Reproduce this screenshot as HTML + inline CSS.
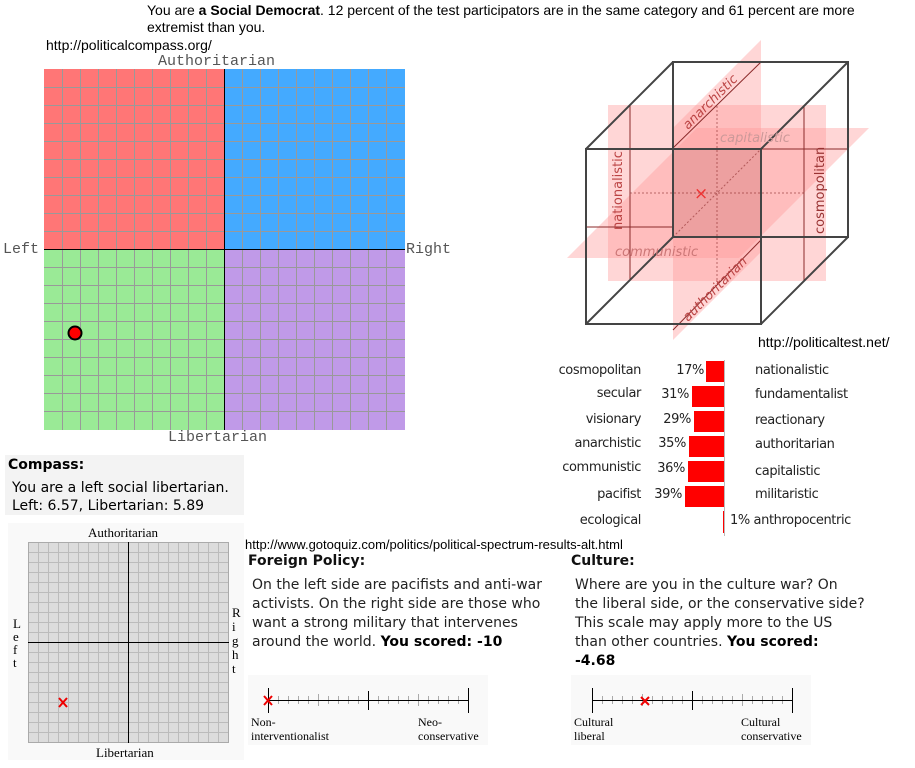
<!DOCTYPE html>
<html><head><meta charset="utf-8"><style>
body{margin:0;width:915px;height:768px;background:#fff;position:relative;overflow:hidden;font-family:"Liberation Sans",sans-serif;}
.a{position:absolute;white-space:nowrap;line-height:1;}
.v{font-family:"DejaVu Sans",sans-serif;font-size:14px;color:#000;}
.m{font-family:"Liberation Mono",monospace;font-size:15px;color:#555;}
.s{font-family:"Liberation Serif",serif;font-size:12px;}
.t{font-family:"DejaVu Sans",sans-serif;font-size:13px;color:#222;letter-spacing:-0.4px;}
svg{position:absolute;left:0;top:0;}
</style></head><body>
<div class="a" style="left:147px;top:3px;font-size:14px">You are <b>a Social Democrat</b>. 12 percent of the test participators are in the same category and 61 percent are more</div>
<div class="a" style="left:147px;top:20px;font-size:14px">extremist than you.</div>
<div class="a" style="left:46px;top:38px;font-size:14px">http://politicalcompass.org/</div>
<div class="a m" style="left:158px;top:54px">Authoritarian</div>
<div class="a m" style="left:3px;top:242px">Left</div>
<div class="a m" style="left:406px;top:242px">Right</div>
<div class="a m" style="left:168px;top:430px">Libertarian</div>

<svg width="915" height="768">
<rect x="44" y="69" width="180" height="180" fill="#ff7676"/>
<rect x="224" y="69" width="181" height="180" fill="#44aaff"/>
<rect x="44" y="249" width="180" height="181" fill="#9aea96"/>
<rect x="224" y="249" width="181" height="181" fill="#c09ae8"/>
<g stroke="#999" stroke-width="1">
<path d="M62.5 69V430M80.5 69V430M98.5 69V430M116.5 69V430M134.5 69V430M152.5 69V430M170.5 69V430M188.5 69V430M206.5 69V430M242.5 69V430M260.5 69V430M278.5 69V430M296.5 69V430M314.5 69V430M332.5 69V430M350.5 69V430M368.5 69V430M386.5 69V430"/>
<path d="M44 87.5H405M44 105.5H405M44 123.5H405M44 141.5H405M44 159.5H405M44 177.5H405M44 195.5H405M44 213.5H405M44 231.5H405M44 267.5H405M44 285.5H405M44 303.5H405M44 321.5H405M44 339.5H405M44 357.5H405M44 375.5H405M44 393.5H405M44 411.5H405"/>
</g>
<path d="M224.5 69V430M44 249.5H405" stroke="#000"/>
<circle cx="75" cy="333" r="6.5" fill="#f00" stroke="#000" stroke-width="2"/>

<g>
<rect x="608" y="105" width="218" height="176" fill="#f99" fill-opacity="0.4"/>
<polygon points="567,258 697,128 869,128 739,258" fill="#f99" fill-opacity="0.4"/>
<polygon points="673,128 761,40 761,252 673,340" fill="#f99" fill-opacity="0.4"/>
<rect x="673" y="148" width="88" height="89" fill="#c88" fill-opacity="0.35"/>
<g stroke="#8b2a2a" stroke-width="1" fill="none">
<path d="M630 106V281M804 106V281M586 227H673M761 149H848"/>
<path d="M673 330L761 240M673 148L761 62" />
<path d="M630 193H804M717 106V281M673 237L761 149" stroke-dasharray="2,2" stroke-opacity="0.6"/>
</g>
<g stroke="#444" stroke-width="2" fill="none">
<rect x="586" y="149" width="175" height="175"/>
<rect x="673" y="62" width="175" height="175"/>
<path d="M586 149L673 62M761 149L848 62M761 324L848 237M586 324L673 237"/>
</g>
<text x="694" y="199" fill="#e33" font-size="17" font-family="DejaVu Sans">×</text>
<g fill="#b44" font-family="DejaVu Sans" font-size="13" font-style="italic">
<text transform="translate(688,130) rotate(-45)">anarchistic</text>
<text transform="translate(688,322) rotate(-45)">authoritarian</text>
<text x="720" y="142" fill="#c99">capitalistic</text>
<text x="615" y="256" fill="#c77">communistic</text>
<text transform="translate(622,230) rotate(-90)" font-style="normal">nationalistic</text>
<text transform="translate(824,234) rotate(-90)" font-style="normal" fill="#933">cosmopolitan</text>
</g>
<g fill="#f00">
<rect x="706" y="361" width="19" height="21"/>
<rect x="692" y="386" width="33" height="21"/>
<rect x="694" y="411" width="31" height="21"/>
<rect x="689" y="436" width="36" height="21"/>
<rect x="688" y="461" width="37" height="21"/>
<rect x="685" y="486" width="40" height="21"/>
<rect x="723" y="511" width="2" height="22"/>
</g>
<path d="M724.5 360V536" stroke="#bbb"/>
<rect x="5" y="455" width="239" height="60" fill="#f3f3f3"/>
<rect x="8" y="523" width="236" height="237" fill="#f9f9f9"/>
<rect x="28" y="542" width="201" height="201" fill="#dcdcdc"/>
<g stroke="#bbb">
<path d="M38.5 542V743M48.5 542V743M58.5 542V743M68.5 542V743M78.5 542V743M88.5 542V743M98.5 542V743M108.5 542V743M118.5 542V743M138.5 542V743M148.5 542V743M158.5 542V743M168.5 542V743M178.5 542V743M188.5 542V743M198.5 542V743M208.5 542V743M218.5 542V743"/>
<path d="M28 552.5H229M28 562.5H229M28 572.5H229M28 582.5H229M28 592.5H229M28 602.5H229M28 612.5H229M28 622.5H229M28 632.5H229M28 652.5H229M28 662.5H229M28 672.5H229M28 682.5H229M28 692.5H229M28 702.5H229M28 712.5H229M28 722.5H229M28 732.5H229"/>
</g>
<rect x="28.5" y="542.5" width="200" height="200" fill="none" stroke="#aaa"/>
<path d="M128.5 542V743M28 642.5H229" stroke="#000"/>
<path d="M59 698L67 707M67 698L59 707" stroke="#e00" stroke-width="2"/>
<rect x="248" y="675" width="240" height="70" fill="#f9f9f9"/>
<rect x="571" y="675" width="240" height="70" fill="#f9f9f9"/>
<g stroke="#aaa">
<path d="M278.5 696V704M288.5 696V704M298.5 696V704M308.5 696V704M318.5 694V706M328.5 696V704M338.5 696V704M348.5 696V704M358.5 696V704M378.5 696V704M388.5 696V704M398.5 696V704M408.5 696V704M418.5 694V706M428.5 696V704M438.5 696V704M448.5 696V704M458.5 696V704"/>
<path d="M602.5 696V704M612.5 696V704M622.5 696V704M632.5 696V704M642.5 694V706M652.5 696V704M662.5 696V704M672.5 696V704M682.5 696V704M702.5 696V704M712.5 696V704M722.5 696V704M732.5 696V704M742.5 694V706M752.5 696V704M762.5 696V704M772.5 696V704M782.5 696V704"/>
</g>
<g stroke="#000">
<path d="M268 700.5H469M268.5 688V713M368.5 691V710M468.5 688V713"/>
<path d="M592 700.5H793M592.5 688V713M692.5 691V710M792.5 688V713"/>
</g>
<path d="M264 696L272 705M272 696L264 705M641 697L649 705M649 697L641 705" stroke="#e00" stroke-width="2"/>
</svg>

<div class="a" style="left:758px;top:335px;font-size:14px">http://politicaltest.net/</div>
<div class="a t" style="right:274px;top:364px">cosmopolitan</div>
<div class="a t" style="right:274px;top:387px">secular</div>
<div class="a t" style="right:274px;top:413px">visionary</div>
<div class="a t" style="right:274px;top:437px">anarchistic</div>
<div class="a t" style="right:274px;top:461px">communistic</div>
<div class="a t" style="right:274px;top:488px">pacifist</div>
<div class="a t" style="right:274px;top:514px">ecological</div>
<div class="a t" style="right:211px;top:364px">17%</div>
<div class="a t" style="right:226px;top:388px">31%</div>
<div class="a t" style="right:224px;top:413px">29%</div>
<div class="a t" style="right:229px;top:437px">35%</div>
<div class="a t" style="right:230px;top:462px">36%</div>
<div class="a t" style="right:233px;top:488px">39%</div>
<div class="a t" style="left:755px;top:364px">nationalistic</div>
<div class="a t" style="left:755px;top:388px">fundamentalist</div>
<div class="a t" style="left:755px;top:414px">reactionary</div>
<div class="a t" style="left:755px;top:438px">authoritarian</div>
<div class="a t" style="left:755px;top:465px">capitalistic</div>
<div class="a t" style="left:755px;top:488px">militaristic</div>
<div class="a t" style="left:730px;top:514px">1% anthropocentric</div>

<div class="a v" style="left:8px;top:458px;font-weight:bold">Compass:</div>
<div class="a v" style="left:12px;top:481px">You are a left social libertarian.</div>
<div class="a v" style="left:12px;top:499px">Left: 6.57, Libertarian: 5.89</div>
<div class="a s" style="left:88px;top:526px;font-size:13px">Authoritarian</div>
<div class="a s" style="left:96px;top:746px;font-size:13px">Libertarian</div>
<div class="a s" style="left:13px;top:617px;font-size:13px;line-height:13px;white-space:normal;width:10px">L<br>e<br>f<br>t</div>
<div class="a s" style="left:232px;top:606px;font-size:13px;line-height:14px;white-space:normal;width:10px">R<br>i<br>g<br>h<br>t</div>

<div class="a" style="left:245px;top:538px;font-size:13px">http://www.gotoquiz.com/politics/political-spectrum-results-alt.html</div>
<div class="a v" style="left:248px;top:554px;font-weight:bold;color:#111">Foreign Policy:</div>
<div class="a v" style="left:252px;top:576px;line-height:19px;white-space:normal;color:#222">On the left side are pacifists and anti-war<br>activists. On the right side are those who<br>want a strong military that intervenes<br>around the world. <b style="color:#000">You scored: -10</b></div>
<div class="a v" style="left:571px;top:554px;font-weight:bold;color:#111">Culture:</div>
<div class="a v" style="left:575px;top:576px;line-height:19px;white-space:normal;color:#222">Where are you in the culture war? On<br>the liberal side, or the conservative side?<br>This scale may apply more to the US<br>than other countries. <b style="color:#000">You scored:<br>-4.68</b></div>
<div class="a s" style="left:251px;top:716px">Non-</div>
<div class="a s" style="left:251px;top:730px">interventionalist</div>
<div class="a s" style="left:418px;top:716px">Neo-</div>
<div class="a s" style="left:418px;top:730px">conservative</div>
<div class="a s" style="left:574px;top:716px">Cultural</div>
<div class="a s" style="left:574px;top:730px">liberal</div>
<div class="a s" style="left:741px;top:716px">Cultural</div>
<div class="a s" style="left:741px;top:730px">conservative</div>
</body></html>
